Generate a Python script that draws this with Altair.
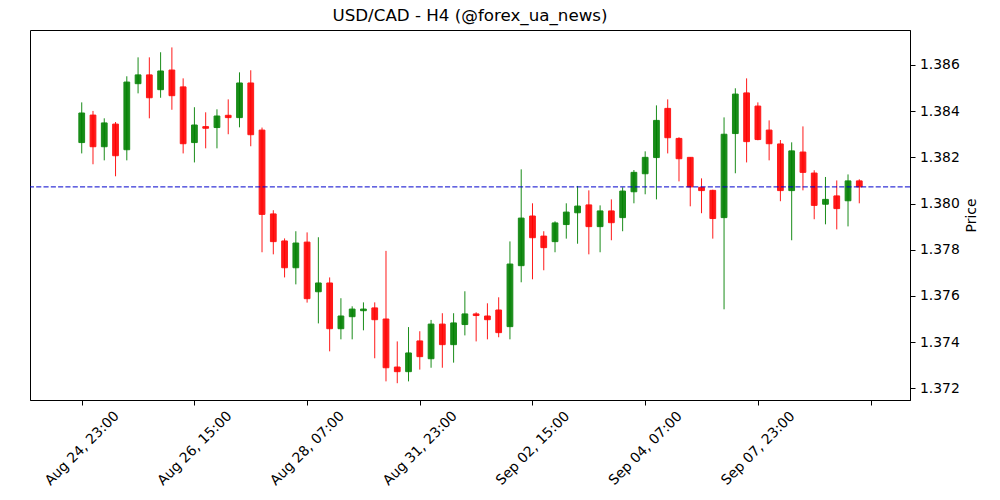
import altair as alt
import pandas as pd

# OHLC values of 70 four-hour candles
opens = [1.38264, 1.38383, 1.38246, 1.38344, 1.38233, 1.38519, 1.38557, 1.38493, 1.38578, 1.38505,
         1.38264, 1.38333, 1.38329, 1.38382, 1.38372, 1.38522, 1.38318, 1.37955, 1.37838, 1.37722,
         1.37833, 1.37618, 1.37656, 1.37458, 1.37510, 1.37536, 1.37548, 1.37500, 1.37292, 1.37272,
         1.37405, 1.37328, 1.37478, 1.37389, 1.37476, 1.37522, 1.37513, 1.37539, 1.37467, 1.37731,
         1.37946, 1.37859, 1.37835, 1.37909, 1.37960, 1.37994, 1.37900, 1.37968, 1.37939, 1.38051,
         1.38129, 1.38199, 1.38412, 1.38282, 1.38200, 1.38070, 1.38057, 1.37939, 1.38303, 1.38479,
         1.38422, 1.38318, 1.38258, 1.38056, 1.38223, 1.38132, 1.37997, 1.38033, 1.38012, 1.38098]
highs = [1.38438, 1.38401, 1.38369, 1.38353, 1.38551, 1.38633, 1.38633, 1.38655, 1.38676, 1.38542,
         1.38417, 1.38395, 1.38408, 1.38451, 1.38568, 1.38577, 1.38329, 1.37971, 1.37849, 1.37880,
         1.37875, 1.37854, 1.37680, 1.37590, 1.37555, 1.37572, 1.37572, 1.37795, 1.37403, 1.37465,
         1.37447, 1.37496, 1.37525, 1.37525, 1.37620, 1.37529, 1.37568, 1.37594, 1.37836, 1.38148,
         1.38001, 1.37880, 1.37923, 1.38001, 1.38076, 1.38057, 1.37992, 1.38018, 1.38070, 1.38145,
         1.38226, 1.38425, 1.38451, 1.38287, 1.38200, 1.38109, 1.38060, 1.38373, 1.38499, 1.38542,
         1.38438, 1.38360, 1.38275, 1.38265, 1.38334, 1.38144, 1.38115, 1.38100, 1.38126, 1.38105]
lows = [1.38217, 1.38170, 1.38187, 1.38118, 1.38187, 1.38477, 1.38369, 1.38458, 1.38406, 1.38217,
        1.38178, 1.38239, 1.38239, 1.38300, 1.38330, 1.38248, 1.37789, 1.37780, 1.37680, 1.37650,
        1.37571, 1.37481, 1.37360, 1.37412, 1.37412, 1.37451, 1.37330, 1.37230, 1.37222, 1.37230,
        1.37281, 1.37289, 1.37289, 1.37311, 1.37429, 1.37403, 1.37412, 1.37421, 1.37412, 1.37659,
        1.37672, 1.37711, 1.37789, 1.37848, 1.37826, 1.37780, 1.37789, 1.37841, 1.37880, 1.38001,
        1.38040, 1.38018, 1.38217, 1.38096, 1.37988, 1.37958, 1.37848, 1.37542, 1.38131, 1.38178,
        1.38274, 1.38187, 1.38010, 1.37841, 1.38057, 1.37932, 1.37910, 1.37888, 1.37901, 1.38001]
closes = [1.38392, 1.38246, 1.38349, 1.38207, 1.38526, 1.38557, 1.38458, 1.38574, 1.38467, 1.38259,
          1.38340, 1.38326, 1.38379, 1.38372, 1.38522, 1.38298, 1.37953, 1.37835, 1.37722, 1.37829,
          1.37588, 1.37656, 1.37458, 1.37513, 1.37543, 1.37543, 1.37497, 1.37289, 1.37272, 1.37353,
          1.37337, 1.37478, 1.37389, 1.37483, 1.37522, 1.37515, 1.37497, 1.37441, 1.37738, 1.37937,
          1.37852, 1.37809, 1.37916, 1.37963, 1.37989, 1.37900, 1.37968, 1.37917, 1.38054, 1.38135,
          1.38200, 1.38360, 1.38285, 1.38194, 1.38072, 1.38056, 1.37935, 1.38300, 1.38474, 1.38268,
          1.38277, 1.38259, 1.38056, 1.38228, 1.38135, 1.37992, 1.38018, 1.37978, 1.38098, 1.38072]

tick_positions = [0, 10, 20, 30, 40, 50, 60, 70]
tick_labels = ["Aug 24, 23:00", "Aug 26, 15:00", "Aug 28, 07:00", "Aug 31, 23:00",
               "Sep 02, 15:00", "Sep 04, 07:00", "Sep 07, 23:00", ""]
price_ticks = [1.372, 1.374, 1.376, 1.378, 1.380, 1.382, 1.384, 1.386]

df = pd.DataFrame({
    "i": list(range(len(opens))),
    "open": opens, "high": highs, "low": lows, "close": closes,
})
df["dir"] = ["up" if c >= o else "down" for o, c in zip(opens, closes)]
last_close = closes[-1]

FONT = "DejaVu Sans"
label_expr = " : ".join(
    f"datum.value == {p} ? '{l}'" for p, l in zip(tick_positions, tick_labels)
) + " : ''"

x_scale = alt.Scale(domain=[-4.59, 73.5], nice=False, zero=False)
y_scale = alt.Scale(domain=[1.371493, 1.387514], nice=False, zero=False)
x_axis = alt.Axis(values=tick_positions, labelExpr=label_expr, title=None, grid=False,
                  labelAngle=315, labelAlign="center", labelBaseline="middle",
                  labelPadding=43, tickSize=5, tickColor="black", domainColor="black",
                  labelFont=FONT, labelFontSize=13.9, labelColor="black",
                  labelFlush=False, labelOverlap=False, labelBound=False)
y_axis = alt.Axis(orient="right", values=price_ticks, format=".3f", grid=False,
                  title="Price", titleAngle=270, titleX=61, titleY=185,
                  titleAlign="center", titleBaseline="middle", titleFont=FONT,
                  titleFontSize=13.9, titleFontWeight="normal", titleColor="black",
                  labelFont=FONT, labelFontSize=13.9, labelColor="black",
                  labelPadding=4.5, tickSize=5, tickColor="black", domainColor="black",
                  labelFlush=False, labelOverlap=False)

color_scale = alt.Scale(domain=["up", "down"], range=["green", "red"])

base = alt.Chart(df)

wicks = base.mark_rule(strokeWidth=1, opacity=0.9).encode(
    x=alt.X("i:Q", scale=x_scale, axis=x_axis),
    y=alt.Y("low:Q", scale=y_scale, axis=y_axis),
    y2="high:Q",
    color=alt.Color("dir:N", scale=color_scale, legend=None),
)

bodies = base.transform_calculate(
    x0="datum.i - 0.255", x1="datum.i + 0.255"
).mark_bar(strokeWidth=1, opacity=0.9).encode(
    x=alt.X("x0:Q", scale=x_scale, axis=x_axis),
    x2="x1:Q",
    y=alt.Y("open:Q", scale=y_scale, axis=y_axis),
    y2="close:Q",
    color=alt.Color("dir:N", scale=color_scale, legend=None),
    stroke=alt.Stroke("dir:N", scale=color_scale, legend=None),
)

last_line = alt.Chart(pd.DataFrame({"price": [last_close]})).mark_rule(
    color="#0000cc", strokeWidth=1, strokeDash=[5.1, 2.2]
).encode(
    y=alt.Y("price:Q", scale=y_scale, axis=y_axis),
)

chart = alt.layer(wicks, bodies, last_line).properties(
    width=880, height=370,
    title=alt.TitleParams("USD/CAD - H4 (@forex_ua_news)", font=FONT, fontSize=16.7,
                          fontWeight="normal", color="black", anchor="middle",
                          frame="group", baseline="alphabetic", offset=9, dy=17),
    autosize=alt.AutoSizeParams(type="none"),
    padding={"left": 30, "top": 30, "right": 90, "bottom": 100},
    background="white",
).configure_view(stroke="black", strokeWidth=1)

chart.save("out.html", embed_options={"renderer": "svg", "actions": False})
